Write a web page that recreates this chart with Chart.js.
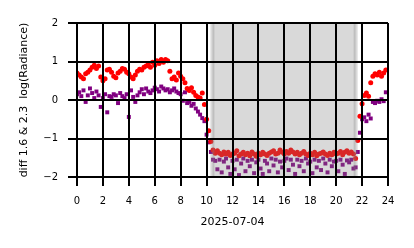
<!DOCTYPE html>
<html>
<head>
<meta charset="utf-8">
<script src="https://cdn.jsdelivr.net/npm/chart.js@4/dist/chart.umd.min.js"></script>
<style>
  html, body { margin: 0; padding: 0; background: #fff; }
  canvas { display: block; }
</style>
</head>
<body>
<canvas id="chart" width="414" height="248"></canvas>
<script>
// samples every 10 minutes, starting at 00:00
const sampleMinutes = 10;

const xTicks = [0, 2, 4, 6, 8, 10, 12, 14, 16, 18, 20, 22, 24];
const yTicks = [-2, -1, 0, 1, 2];

// shaded night period (hours)
const nightSpan = [10.45, 21.5];

const xTitle = '2025-07-04';
const yTitle = 'diff 1.6 & 2.3  log(Radiance)';

// red series, 6 values per hour
const diffRed = [
    0.70, 0.65, 0.60, 0.55, 0.68, 0.72,
    0.78, 0.85, 0.90, 0.82, 0.88, 0.60,
    0.50, 0.55, 0.78, 0.80, 0.72, 0.62,
    0.58, 0.70, 0.75, 0.82, 0.80, 0.72,
    0.68, 0.60, 0.55, 0.65, 0.75, 0.80,
    0.78, 0.85, 0.88, 0.92, 0.85, 0.98,
    0.90, 1.02, 0.95, 1.05, 0.98, 1.05,
    1.02, 0.75, 0.55, 0.60, 0.52, 0.70,
    0.62, 0.55, 0.45, 0.30, 0.25, 0.32,
    0.20, 0.12, 0.08, 0.05, 0.18, -0.12,
    -0.50, -0.80, -1.08, -1.30, -1.38, -1.32,
    -1.38, -1.42, -1.35, -1.40, -1.36, -1.44,
    -1.40, -1.38, -1.32, -1.45, -1.40, -1.36,
    -1.42, -1.38, -1.45, -1.35, -1.40, -1.46,
    -1.38, -1.42, -1.36, -1.40, -1.44, -1.38,
    -1.35, -1.32, -1.40, -1.38, -1.30, -1.36,
    -1.40, -1.34, -1.38, -1.30, -1.35, -1.40,
    -1.36, -1.42, -1.38, -1.34, -1.40, -1.44,
    -1.38, -1.42, -1.36, -1.45, -1.40, -1.38,
    -1.35, -1.40, -1.44, -1.38, -1.42, -1.36,
    -1.40, -1.38, -1.34, -1.42, -1.36, -1.32,
    -1.38, -1.35, -1.40, -1.52, -1.05, -0.42,
    -0.10, 0.12, 0.18, 0.10, 0.45, 0.62,
    0.68, 0.65, 0.72, 0.62, 0.70, 0.78
];

// purple series, 6 values per hour
const diffPurple = [
    0.15, 0.20, 0.10, 0.25, -0.05, 0.12,
    0.30, 0.18, 0.05, 0.22, 0.12, -0.18,
    0.05, 0.15, -0.32, 0.10, 0.08, 0.15,
    0.12, -0.08, 0.18, 0.10, 0.05, 0.15,
    -0.44, 0.25, 0.08, -0.05, 0.12, 0.20,
    0.28, 0.15, 0.30, 0.22, 0.18, 0.25,
    0.32, 0.28, 0.22, 0.35, 0.30, 0.25,
    0.28, 0.20, 0.25, 0.30, 0.22, 0.18,
    0.15, -0.02, 0.20, -0.08, -0.05, -0.15,
    -0.10, -0.22, -0.30, -0.38, -0.47, -0.55,
    -0.90, -1.10, -1.35, -1.55, -1.58, -1.80,
    -1.55, -1.88, -1.60, -1.52, -1.75, -1.92,
    -1.58, -1.80, -1.55, -1.95, -1.65, -1.52,
    -1.85, -1.58, -1.72, -1.55, -1.90, -1.62,
    -1.55, -1.78, -1.92, -1.58, -1.65, -1.85,
    -1.52, -1.70, -1.55, -1.88, -1.60, -1.75,
    -1.58, -1.52, -1.82, -1.55, -1.68, -1.92,
    -1.55, -1.72, -1.58, -1.85, -1.52, -1.65,
    -1.60, -1.90, -1.55, -1.75, -1.58, -1.82,
    -1.52, -1.65, -1.88, -1.55, -1.72, -1.60,
    -1.58, -1.85, -1.55, -1.68, -1.92, -1.57,
    -1.62, -1.55, -1.78, -1.75, -1.35, -0.85,
    -0.50, -0.45, -0.55, -0.38, -0.48, -0.05,
    -0.08, -0.02, -0.05, 0.02, -0.03, 0.20
];

function toPoints(vals) {
    return vals.map((v, i) => ({ x: i * sampleMinutes / 60, y: v }));
}

const fontTicks = { family: "'DejaVu Sans', sans-serif", size: 10 };
const fontTitle = { family: "'DejaVu Sans', sans-serif", size: 11 };

// grey band over the points, under the grid
const nightShade = {
    id: 'nightShade',
    afterDatasetsDraw(chart) {
        const { ctx, chartArea, scales } = chart;
        const x0 = scales.x.getPixelForValue(nightSpan[0]);
        const x1 = scales.x.getPixelForValue(nightSpan[1]);
        ctx.save();
        ctx.fillStyle = 'rgba(128,128,128,0.3)';
        ctx.fillRect(x0, chartArea.top, x1 - x0, chartArea.bottom - chartArea.top);
        ctx.strokeStyle = 'rgba(128,128,128,0.3)';
        ctx.lineWidth = 4;
        ctx.beginPath();
        ctx.moveTo(x0, chartArea.top); ctx.lineTo(x0, chartArea.bottom);
        ctx.moveTo(x1, chartArea.top); ctx.lineTo(x1, chartArea.bottom);
        ctx.stroke();
        ctx.restore();
    }
};

new Chart(document.getElementById('chart'), {
    type: 'scatter',
    data: {
        datasets: [{
            data: toPoints(diffRed),
            backgroundColor: '#ff0000',
            pointStyle: 'circle',
            pointRadius: 2.5,
            borderWidth: 0
        }, {
            data: toPoints(diffPurple),
            backgroundColor: '#800080',
            pointStyle: 'rect',
            pointRadius: 2.8,
            borderWidth: 0
        }]
    },
    options: {
        responsive: false,
        animation: false,
        events: [],
        layout: { padding: { left: 0, right: 26, top: 23, bottom: 0 } },
        plugins: { legend: { display: false }, tooltip: { enabled: false } },
        scales: {
            x: {
                type: 'linear',
                min: 0,
                max: 24,
                afterBuildTicks: s => { s.ticks = xTicks.map(v => ({ value: v })); },
                afterFit: s => { s.height = 71; },
                grid: { color: '#000', lineWidth: 2, tickLength: 9, z: 1 },
                border: { display: false },
                ticks: { color: '#000', font: fontTicks, padding: 9, maxRotation: 0, autoSkip: false },
                title: { display: true, text: xTitle, color: '#000', font: fontTitle, padding: { top: 0, bottom: 19 } }
            },
            y: {
                min: -2,
                max: 2,
                afterBuildTicks: s => { s.ticks = yTicks.map(v => ({ value: v })); },
                afterFit: s => { s.width = 77; },
                grid: { color: '#000', lineWidth: 2, tickLength: 9, z: 1 },
                border: { display: false },
                ticks: {
                    color: '#000', font: fontTicks, padding: 10,
                    callback: v => v < 0 ? '\u2212' + Math.abs(v) : String(v)
                },
                title: { display: true, text: yTitle, color: '#000', font: fontTitle, padding: { top: 18, bottom: 0 } }
            }
        }
    },
    plugins: [nightShade]
});
</script>
</body>
</html>
